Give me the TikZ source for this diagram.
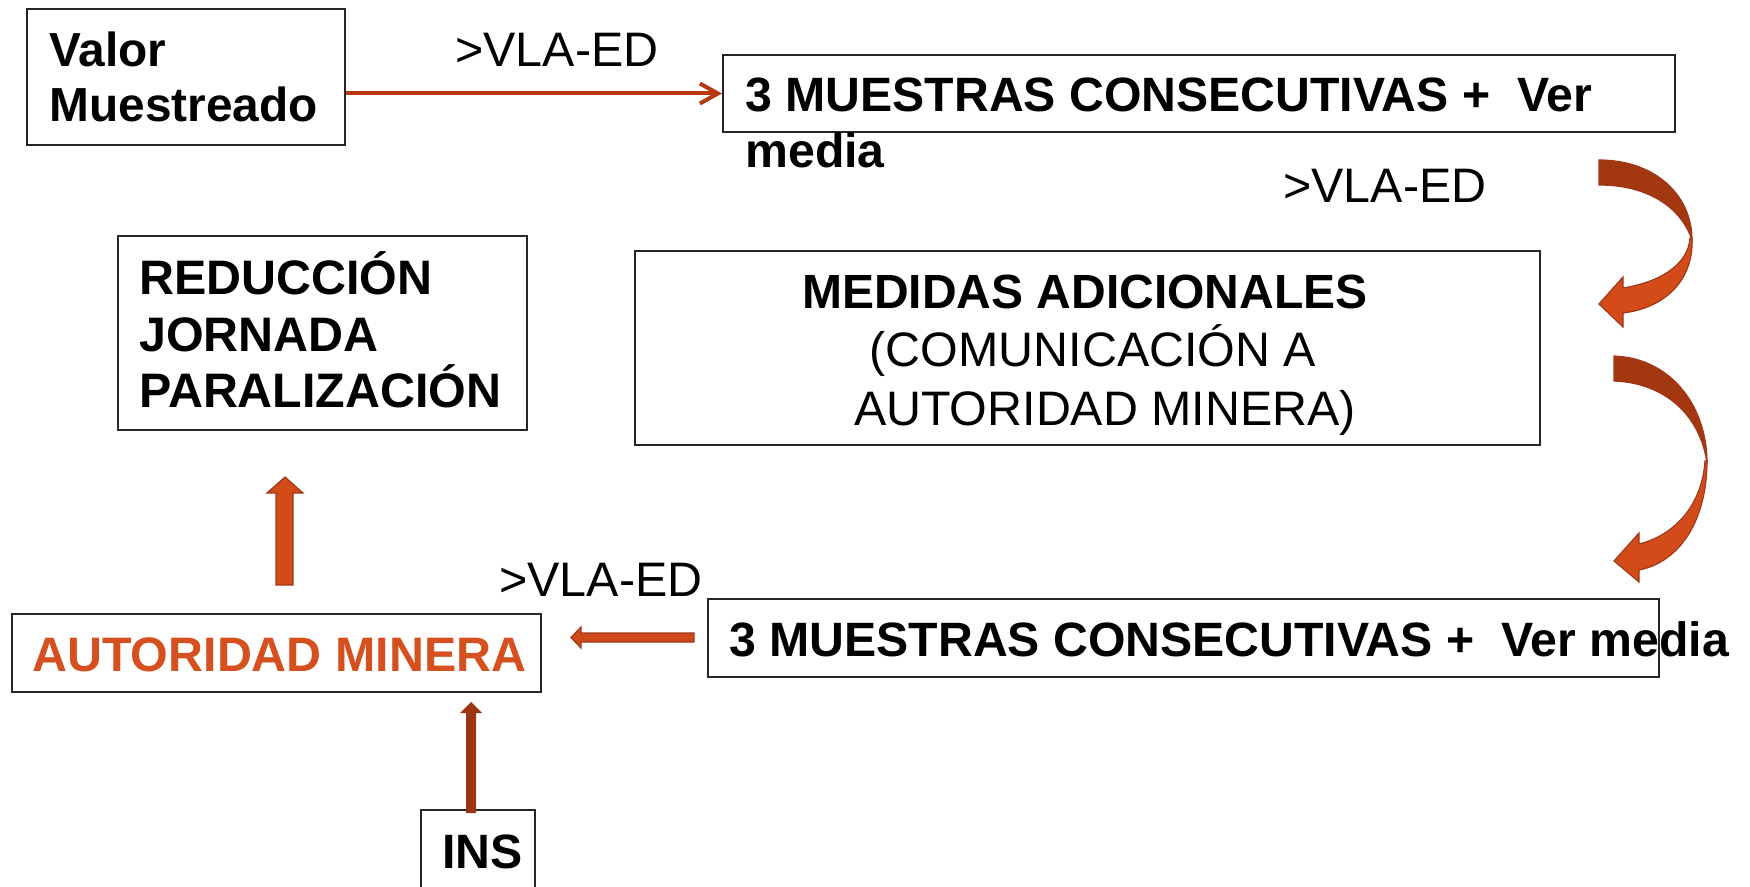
\documentclass[tikz,border=0pt]{standalone}
\usepackage{fontspec}
\setmainfont{Liberation Sans}
\usetikzlibrary{arrows.meta}
\definecolor{orng}{HTML}{D44B1A}
\definecolor{drk}{HTML}{A3370F}
\definecolor{edgec}{HTML}{A0391A}
\definecolor{insc}{HTML}{9C3512}
\definecolor{autc}{HTML}{D5501E}
\definecolor{linec}{HTML}{B5380F}
\begin{document}
\begin{tikzpicture}[x=0.5pt,y=-0.5pt,
  box/.style={draw=black!85, line width=1pt, inner sep=0pt},
  txt/.style={anchor=base west, inner sep=0pt, font=\fontsize{24.2pt}{28pt}\selectfont},
  btxt/.style={txt, font=\fontsize{24.1pt}{28pt}\selectfont\bfseries},
  stxt/.style={txt, font=\fontsize{24.1pt}{28pt}\selectfont\bfseries},
  ctxt/.style={anchor=base, inner sep=0pt, font=\fontsize{24.2pt}{28pt}\selectfont},
  blk/.style={fill=orng, draw=edgec, line width=0.6pt},
  blkdark/.style={fill=drk, draw=edgec, line width=0.6pt},
  flow/.style={draw=linec, line width=2pt, -{Straight Barb[length=9pt,width=10pt]}}]
\useasboundingbox (0,0) rectangle (1750,887);

% boxes
\node[box, minimum width=159pt, minimum height=68pt] (valor) at (186,77) {};
\node[box, minimum width=476pt, minimum height=38.5pt] (m1) at (1199,93.5) {};
\node[box, minimum width=452.5pt, minimum height=97pt] (med) at (1087.5,348) {};
\node[box, minimum width=204.5pt, minimum height=97pt] (red) at (322.5,333) {};
\node[box, minimum width=264.5pt, minimum height=39pt] (aut) at (276.5,653) {};
\node[box, minimum width=475.5pt, minimum height=39pt] (m2) at (1183.5,638) {};
\node[box, minimum width=57pt, minimum height=55pt] (ins) at (478,865) {};

% texts
\node[btxt, font=\fontsize{23.9pt}{28pt}\selectfont\bfseries] (t1) at (49,67) {Valor};
\node[btxt, font=\fontsize{23.9pt}{28pt}\selectfont\bfseries] (t2) at (49,122) {Muestreado};
\node[stxt] (t3) at (745,112) {3 MUESTRAS CONSECUTIVAS +\ \ Ver};
\node[stxt] (t4) at (745,168) {media};
\node[ctxt, font=\fontsize{24pt}{28pt}\selectfont\bfseries] (t5) at (1085,309) {MEDIDAS ADICIONALES};
\node[ctxt] (t6) at (1093,367) {(COMUNICACIÓN A};
\node[ctxt] (t7) at (1105,425) {AUTORIDAD MINERA)};
\node[btxt, font=\fontsize{24.2pt}{28pt}\selectfont\bfseries] (t8) at (139,295) {REDUCCIÓN};
\node[btxt, font=\fontsize{24.2pt}{28pt}\selectfont\bfseries] (t9) at (139,352) {JORNADA};
\node[btxt, font=\fontsize{24.2pt}{28pt}\selectfont\bfseries] (t10) at (139,408) {PARALIZACIÓN};
\node[btxt, text=autc, font=\fontsize{24.2pt}{28pt}\selectfont\bfseries] (t11) at (32,671) {AUTORIDAD MINERA};
\node[stxt] (t12) at (729,656) {3 MUESTRAS CONSECUTIVAS +\ \ Ver media};
\node[btxt] (t13) at (442,868) {INS};
\node[txt] (l1) at (455,67) {>VLA-ED};
\node[txt] (l2) at (1283,203) {>VLA-ED};
\node[txt] (l3) at (499,596) {>VLA-ED};

% straight connector
\draw[flow] (valor.east |- m1.west) -- (m1.west);

% curved arrow 1 (m1 -> med)
\path[blkdark] (1599,160) .. controls (1655,160) and (1692,195) .. (1692,240)
  .. controls (1680,205) and (1645,185) .. (1599,185) -- cycle;
\path[blk] (1692,238) .. controls (1694,280) and (1665,308) .. (1623,313)
  -- (1623,327) -- (1599,304) -- (1623,277) -- (1623,288)
  .. controls (1660,282) and (1688,265) .. (1690,238) -- cycle;

% curved arrow 2 (med -> m2)
\path[blkdark] (1614,356) .. controls (1670,358) and (1707,405) .. (1707,463)
  .. controls (1700,415) and (1665,383) .. (1614,381) -- cycle;
\path[blk] (1707,461) .. controls (1707,520) and (1680,562) .. (1639,570)
  -- (1639,582) -- (1614,561) -- (1639,533) -- (1639,544)
  .. controls (1675,535) and (1702,505) .. (1705,461) -- cycle;

% left arrow (m2 -> aut)
\path[blk, fill=orng!90!drk] (694,633) -- (581,633) -- (581,627) -- (571,637.5)
  -- (581,648) -- (581,642) -- (694,642) -- cycle;

% up arrow (aut -> red)
\path[blk] (276,585) -- (276,493) -- (267,493) -- (285,477) -- (303,493)
  -- (293,493) -- (293,585) -- cycle;

% ins arrow (ins -> aut)
\path[fill=insc] (466,813) -- (466,713) -- (460,713) -- (471,702) -- (482,713)
  -- (476,713) -- (476,813) -- cycle;
\end{tikzpicture}
\end{document}
